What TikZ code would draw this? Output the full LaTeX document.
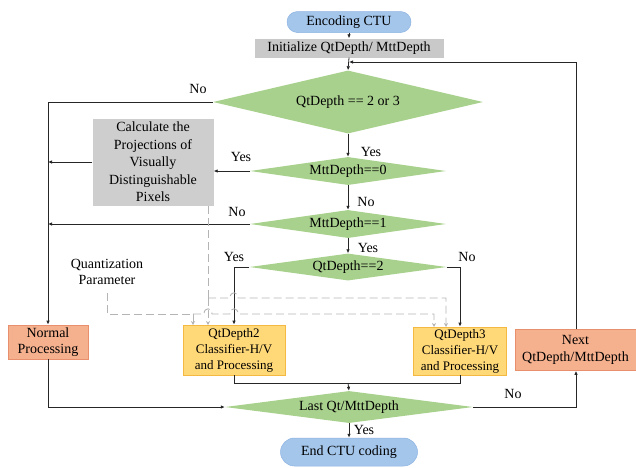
\documentclass[tikz,border=0pt]{standalone}
\usepackage{fontspec}
\setmainfont{Liberation Serif}
\usetikzlibrary{shapes.geometric,shapes.misc,arrows.meta,calc}
\definecolor{cblue}{HTML}{A4C6EB}
\definecolor{cblueb}{HTML}{8DB3E2}
\definecolor{cgray}{HTML}{C9C9C9}
\definecolor{cgreen}{HTML}{A9D18E}
\definecolor{cyel}{HTML}{FFD878}
\definecolor{cyelb}{HTML}{F4B942}
\definecolor{csal}{HTML}{F5B08E}
\definecolor{csalb}{HTML}{E8906E}
\definecolor{cdash}{HTML}{B4B4B4}
\begin{document}
\begin{tikzpicture}[x=1pt,y=-1pt,
  font=\fontsize{14}{16.5}\selectfont,
  every node/.style={inner sep=0pt, align=center},
  term/.style 2 args={rounded rectangle, fill=cblue, draw=cblueb, line width=0.5pt, minimum width=#1, minimum height=#2},
  dia/.style 2 args={diamond, fill=cgreen, aspect=6, minimum width=#1, minimum height=#2},
  graybox/.style 2 args={rectangle, fill=cgray, minimum width=#1, minimum height=#2},
  yelbox/.style 2 args={rectangle, fill=cyel, draw=cyelb, line width=0.6pt, minimum width=#1, minimum height=#2, font=\fontsize{13}{16}\selectfont},
  salbox/.style 2 args={rectangle, fill=csal, draw=csalb, line width=0.6pt, minimum width=#1, minimum height=#2},
  flow/.style={draw=black!85, line width=0.8pt},
  arr/.style={flow, -{Latex[length=4pt,width=3.5pt]}},
  dsh/.style={draw=cdash, line width=0.9pt, dash pattern=on 8pt off 4pt},
  darr/.style={dsh, -{Stealth[length=4pt,width=4pt]}},
  lbl/.style={font=\fontsize{14}{16}\selectfont}
]
\useasboundingbox (0,0) rectangle (636,467);

% nodes
\node[term={124pt}{21pt}] (enc) at (349,22) {Encoding CTU};
\node[graybox={189pt}{19pt}] (init) at (349,48) {Initialize QtDepth/ MttDepth};
\node[dia={270pt}{63pt}] (d1) at (348,102) {QtDepth == 2 or 3};
\node[graybox={121pt}{87pt}, fill=cgray!90] (calc) at (153,162) {Calculate the\\[1pt]Projections of\\[1pt]Visually\\[1pt]Distinguishable\\[1pt]Pixels};
\node[dia={196pt}{28pt}] (d2) at (348,171) {MttDepth==0};
\node[dia={196pt}{28pt}] (d3) at (348,224) {MttDepth==1};
\node[dia={197pt}{27pt}] (d4) at (348,267) {QtDepth==2};
\node (qp) at (107,272) {Quantization\\Parameter};
\node[salbox={80pt}{34pt}] (normal) at (48,342) {Normal\\Processing};
\node[yelbox={102pt}{50pt}] (q2) at (234,350) {QtDepth2\\Classifier-H/V\\and Processing};
\node[yelbox={93pt}{48pt}] (q3) at (460,351) {QtDepth3\\Classifier-H/V\\and Processing};
\node[salbox={121pt}{41pt}] (next) at (575.5,350) {Next\\QtDepth/MttDepth};
\node[dia={248pt}{32pt}] (last) at (349,407) {Last Qt/MttDepth};
\node[term={137pt}{28pt}] (end) at (349,452) {End CTU coding};

% labels
\node[lbl] (l1) at (198,89) {No};
\node[lbl] (l2) at (371,152) {Yes};
\node[lbl] (l3) at (241,157) {Yes};
\node[lbl] (l4) at (366,202) {No};
\node[lbl] (l5) at (237,212) {No};
\node[lbl] (l6) at (368,248) {Yes};
\node[lbl] (l7) at (234,257) {Yes};
\node[lbl] (l8) at (467,257) {No};
\node[lbl] (l9) at (513,394) {No};
\node[lbl] (l10) at (364,430) {Yes};

% coordinates
\coordinate (join) at (349,62);
\coordinate (lefttop) at (48,102);
\coordinate (merge) at (348,383);
\coordinate (rloop) at (576,62);

% solid connectors
\draw[arr] (enc.south) -- (init.north);
\draw[arr] (init.south) -- (d1.north);
\draw[arr] (d1.west) -- (lefttop) -- (normal.north);
\draw[arr] (d1.south) -- (d2.north);
\draw[arr] (d2.west) -- (calc.east |- d2.west);
\draw[arr] (calc.west) -- (calc.west -| lefttop);
\draw[arr] (d2.south) -- (d3.north);
\draw[arr] (d3.west) -- (d3.west -| lefttop);
\draw[arr] (d3.south) -- (d4.north);
\draw[arr] (d4.west) -- (d4.west -| q2.north) -- (q2.north);
\draw[arr] (d4.east) -- (d4.east -| q3.north) -- (q3.north);
\draw[flow] (q2.south) -- (q2.south |- merge) -- (q3.south |- merge) -- (q3.south);
\draw[arr] (merge) -- (last.north);
\draw[arr] (normal.south) -- (normal.south |- last.west) -- (last.west);
\draw[arr] (last.east) -- (last.east -| rloop) -- (next.south -| rloop);
\draw[arr] (next.north -| rloop) -- (rloop) -- (join);
\draw[arr] (last.south) -- (end.north);

% dashed connectors with hops
\draw[dsh] (208,206) -- (208,298);
\draw[darr] (208,298) -- (208,325);
\draw[darr] (208,298) -- (230,298) .. controls (230,291) and (238,291) .. (238,298) -- (446,298) -- (446,327);
\draw[dsh] (107,293) -- (107,314) -- (193,314);
\draw[darr] (193,314) -- (193,325);
\draw[darr] (193,314) -- (204,314) .. controls (204,307) and (212,307) .. (212,314) -- (230,314) .. controls (230,307) and (238,307) .. (238,314) -- (434,314) -- (434,327);
\end{tikzpicture}
\end{document}
